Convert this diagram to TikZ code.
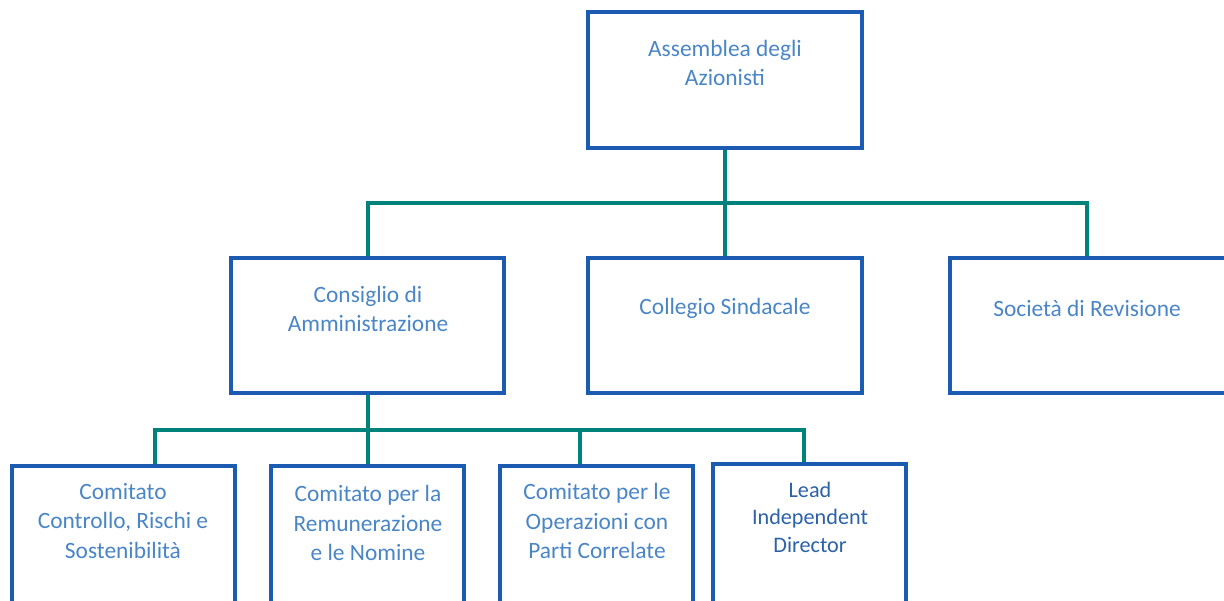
\documentclass[tikz,border=0pt]{standalone}
\usepackage{fontspec}
\setmainfont{Carlito}
\definecolor{boxblue}{HTML}{1B5CB2}
\definecolor{teal2}{HTML}{00827C}
\definecolor{txtblue}{HTML}{4A86C6}
\definecolor{darkblue}{HTML}{2C62A8}
\tikzset{
  box/.style={draw=boxblue, line width=4pt, fill=white, inner sep=0pt},
  conn/.style={draw=teal2, line width=4pt},
  txt/.style={text=txtblue, align=center, inner sep=0pt, font=\fontsize{23.4}{29.5}\selectfont},
  txtdark/.style={text=darkblue, align=center, inner sep=0pt, font=\fontsize{22.2}{27.5}\selectfont}
}
\begin{document}
\begin{tikzpicture}[x=1pt,y=-1pt]
\useasboundingbox (0,0) rectangle (1224,601);
% boxes
\node[box, minimum width=274pt, minimum height=136pt] (top) at (725,80) {};
\node[box, minimum width=273pt, minimum height=135pt] (cda) at (367.5,325.5) {};
\node[box, minimum width=274pt, minimum height=135pt] (col) at (725,325.5) {};
\node[box, minimum width=280pt, minimum height=135pt] (soc) at (1090,325.5) {};
\node[box, minimum width=223pt, minimum height=154pt] (c1) at (123.5,543) {};
\node[box, minimum width=193pt, minimum height=154pt] (c2) at (367.5,543) {};
\node[box, minimum width=193pt, minimum height=154pt] (c3) at (596.5,543) {};
\node[box, minimum width=193pt, minimum height=156pt] (lid) at (809.5,542) {};
% connectors
\coordinate (busA) at (725,203);
\coordinate (k0) at (1087,203);
\draw[conn] (cda.north) -- (cda.north |- busA) -- (k0) -- (soc.north -| k0);
\draw[conn] (top.south) -- (col.north);
\coordinate (k1) at (155,430);
\coordinate (k3) at (580,430);
\coordinate (k4) at (804,430);
\draw[conn] (c1.north -| k1) -- (k1) -- (k4) -- (lid.north -| k4);
\draw[conn] (cda.south) -- (c2.north);
\draw[conn] (k3) -- (c3.north -| k3);
% texts
\node[txt] (ttop) at (725,63) {Assemblea degli\\Azionisti};
\node[txt] (tcda) at (368,309) {Consiglio di\\Amministrazione};
\node[txt] (tcol) at (725,308) {Collegio Sindacale};
\node[txt] (tsoc) at (1087,308) {Società di Revisione};
\node[txt] (tc1) at (123,521) {Comitato\\Controllo, Rischi e\\Sostenibilità};
\node[txt] (tc2) at (368,523) {Comitato per la\\Remunerazione\\e le Nomine};
\node[txt] (tc3) at (597,521) {Comitato per le\\Operazioni con\\Parti Correlate};
\node[txtdark] (tlid) at (810,517) {Lead\\Independent\\Director};
\end{tikzpicture}
\end{document}
